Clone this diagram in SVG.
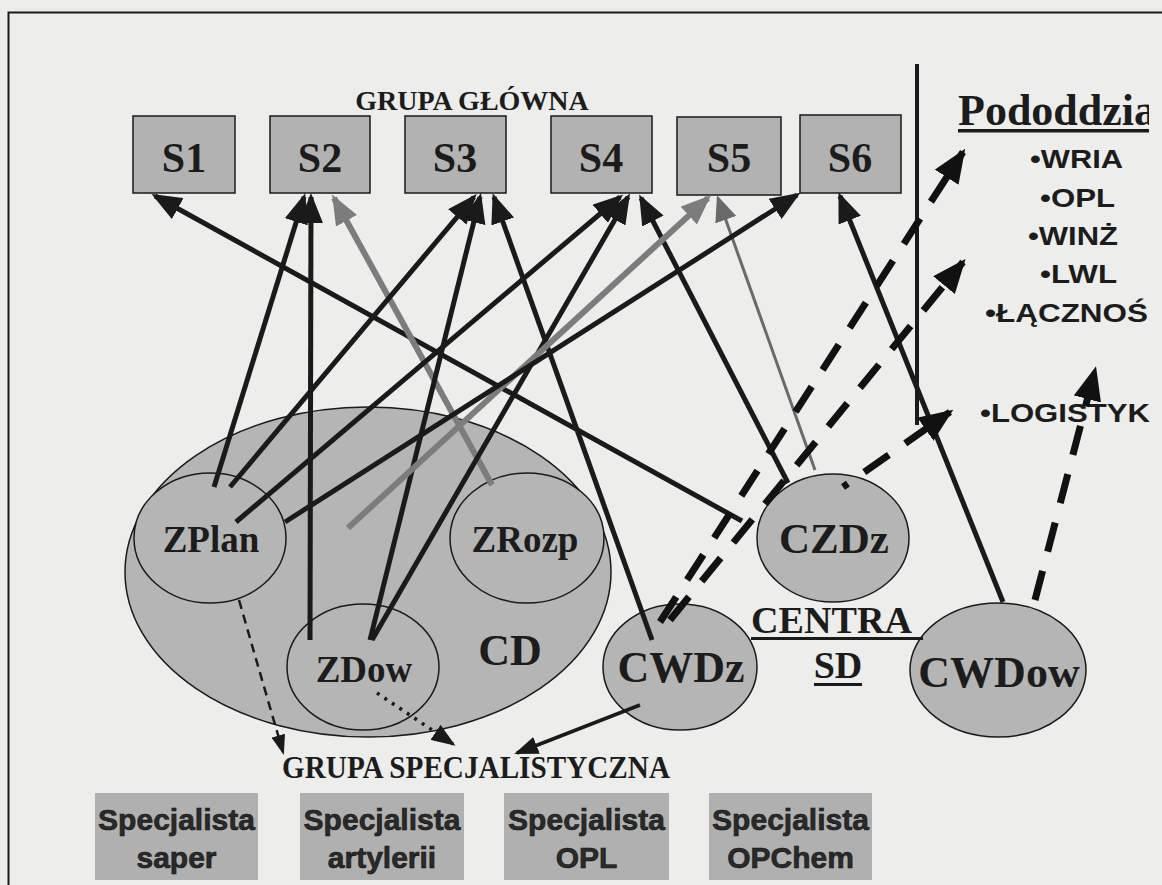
<svg xmlns="http://www.w3.org/2000/svg" width="1162" height="885" viewBox="0 0 1162 885">
  <defs>
    <style>
      .serif { font-family: "Liberation Serif", "Times New Roman", serif; font-weight: bold; fill: #1c1c1c; }
      .sans { font-family: "Liberation Sans", Arial, sans-serif; font-weight: bold; fill: #1c1c1c; }
      .box { fill: #b2b2b2; stroke: #1a1a1a; stroke-width: 1.5; }
      .oval { fill: #b5b5b5; stroke: #1a1a1a; stroke-width: 1.5; }
      .spec { fill: #b0b0b0; }
      .blk { fill: none; stroke: #1a1a1a; stroke-width: 5; }
      .gry { fill: none; stroke: #7c7c7c; stroke-width: 6; }
      .gryThin { fill: none; stroke: #6a6a6a; stroke-width: 3; }
      .dash { fill: none; stroke: #111; stroke-width: 7; stroke-dasharray: 30 20; }
      .spc { font-family: "Liberation Sans", Arial, sans-serif; font-weight: bold; font-size: 30px; fill: #2a2a2a; stroke: #111; stroke-width: 0.6; text-anchor: middle; }
    </style>
    <marker id="arrK" viewBox="0 0 30 24" refX="26" refY="12" markerWidth="30" markerHeight="24" markerUnits="userSpaceOnUse" orient="auto">
      <path d="M0,0 L30,12 L0,24 Z" fill="#1a1a1a"/>
    </marker>
    <marker id="arrG" viewBox="0 0 30 24" refX="26" refY="12" markerWidth="30" markerHeight="24" markerUnits="userSpaceOnUse" orient="auto">
      <path d="M0,0 L30,12 L0,24 Z" fill="#7c7c7c"/>
    </marker>
    <marker id="arrGs" viewBox="0 0 26 22" refX="23" refY="11" markerWidth="26" markerHeight="22" markerUnits="userSpaceOnUse" orient="auto">
      <path d="M0,0 L26,11 L0,22 Z" fill="#6a6a6a"/>
    </marker>
    <marker id="arrD" viewBox="0 0 34 28" refX="30" refY="14" markerWidth="34" markerHeight="28" markerUnits="userSpaceOnUse" orient="auto">
      <path d="M0,0 L34,14 L0,28 Z" fill="#111"/>
    </marker>
    <marker id="arrKs" viewBox="0 0 24 18" refX="21" refY="9" markerWidth="24" markerHeight="18" markerUnits="userSpaceOnUse" orient="auto">
      <path d="M0,0 L24,9 L0,18 Z" fill="#1a1a1a"/>
    </marker>
    <marker id="arrKxs" viewBox="0 0 20 14" refX="17" refY="7" markerWidth="20" markerHeight="14" markerUnits="userSpaceOnUse" orient="auto">
      <path d="M0,0 L20,7 L0,14 Z" fill="#1a1a1a"/>
    </marker>
    <clipPath id="rightEdge">
      <rect x="0" y="0" width="1149" height="885"/>
    </clipPath>
  </defs>

  <!-- paper and frame -->
  <rect x="0" y="0" width="1162" height="885" fill="#ededeb"/>
  <rect x="8.5" y="12.5" width="1170" height="900" fill="none" stroke="#1a1a1a" stroke-width="2"/>

  <!-- main group header -->
  <text class="serif" x="472" y="110" font-size="28" text-anchor="middle">GRUPA GŁÓWNA</text>

  <g id="S1"><rect class="box" x="133" y="116" width="102" height="77"/><text class="serif" x="184" y="172" font-size="42" text-anchor="middle">S1</text></g>
  <g id="S2"><rect class="box" x="270" y="116" width="100" height="77"/><text class="serif" x="320" y="172" font-size="42" text-anchor="middle">S2</text></g>
  <g id="S3"><rect class="box" x="405" y="116" width="101" height="77"/><text class="serif" x="455" y="172" font-size="42" text-anchor="middle">S3</text></g>
  <g id="S4"><rect class="box" x="551" y="116" width="101" height="77"/><text class="serif" x="601" y="172" font-size="42" text-anchor="middle">S4</text></g>
  <g id="S5"><rect class="box" x="677" y="117" width="104" height="78"/><text class="serif" x="729" y="172" font-size="42" text-anchor="middle">S5</text></g>
  <g id="S6"><rect class="box" x="800" y="115" width="101" height="78"/><text class="serif" x="850" y="172" font-size="42" text-anchor="middle">S6</text></g>

  <!-- subunits list -->
  <g id="pododdzialy">
    <line x1="917" y1="64" x2="917" y2="425" stroke="#1a1a1a" stroke-width="4"/>
    <g clip-path="url(#rightEdge)">
      <text class="serif" x="958" y="125" font-size="44">Pododdzia</text>
      <rect x="958" y="129" width="195" height="3.5" fill="#1a1a1a"/>
    </g>
    <text class="sans" x="1030" y="168" font-size="25" textLength="93" lengthAdjust="spacingAndGlyphs">•WRIA</text>
    <text class="sans" x="1040" y="207" font-size="25" textLength="75" lengthAdjust="spacingAndGlyphs">•OPL</text>
    <text class="sans" x="1028" y="245" font-size="25" textLength="90" lengthAdjust="spacingAndGlyphs">•WINŻ</text>
    <text class="sans" x="1040" y="283" font-size="25" textLength="77" lengthAdjust="spacingAndGlyphs">•LWL</text>
    <text class="sans" x="985" y="322" font-size="25" textLength="163" lengthAdjust="spacingAndGlyphs">•ŁĄCZNOŚ</text>
    <text class="sans" x="980" y="422" font-size="25" textLength="170" lengthAdjust="spacingAndGlyphs">•LOGISTYK</text>
  </g>

  <!-- command post with its cells -->
  <g id="CD">
    <ellipse class="oval" cx="368" cy="572" rx="243" ry="165"/>
    <text class="serif" x="510" y="665" font-size="44" text-anchor="middle">CD</text>
  </g>
  <g id="ZPlan">
    <ellipse class="oval" cx="210" cy="538" rx="76" ry="65"/>
    <text class="serif" x="211" y="552" font-size="37" text-anchor="middle">ZPlan</text>
  </g>
  <g id="ZRozp">
    <ellipse class="oval" cx="527" cy="538" rx="77" ry="65"/>
    <text class="serif" x="525" y="552" font-size="37" text-anchor="middle">ZRozp</text>
  </g>
  <g id="ZDow">
    <ellipse class="oval" cx="363" cy="667" rx="76" ry="63"/>
    <text class="serif" x="364" y="682" font-size="37" text-anchor="middle">ZDow</text>
  </g>

  <!-- support centres -->
  <g id="CZDz">
    <ellipse class="oval" cx="833" cy="538" rx="76" ry="64"/>
    <text class="serif" x="834" y="553" font-size="43" text-anchor="middle">CZDz</text>
  </g>
  <g id="CWDz">
    <ellipse class="oval" cx="680" cy="667" rx="77" ry="63"/>
    <text class="serif" x="681" y="682" font-size="44" text-anchor="middle">CWDz</text>
  </g>
  <g id="CWDow">
    <ellipse class="oval" cx="998" cy="670" rx="88" ry="67"/>
    <text class="serif" x="999" y="687" font-size="44" text-anchor="middle">CWDow</text>
  </g>
  <g id="centra">
    <text class="serif" x="751" y="633" font-size="38" textLength="161" lengthAdjust="spacingAndGlyphs">CENTRA</text>
    <rect x="751" y="637" width="172" height="3" fill="#1a1a1a"/>
    <text class="serif" x="838" y="678" font-size="38" text-anchor="middle">SD</text>
    <rect x="814" y="683" width="48" height="3" fill="#1a1a1a"/>
  </g>

  <!-- specialist group -->
  <text class="serif" x="282" y="778" font-size="31" textLength="388" lengthAdjust="spacingAndGlyphs">GRUPA SPECJALISTYCZNA</text>
  <g id="spec-saper"><rect class="spec" x="95" y="793" width="163" height="87"/><text class="spc" x="176.5" y="830">Specjalista</text><text class="spc" x="176.5" y="868">saper</text></g>
  <g id="spec-artylerii"><rect class="spec" x="300" y="793" width="164" height="87"/><text class="spc" x="382" y="830">Specjalista</text><text class="spc" x="382" y="868">artylerii</text></g>
  <g id="spec-opl"><rect class="spec" x="504" y="793" width="165" height="87"/><text class="spc" x="586.5" y="830">Specjalista</text><text class="spc" x="586.5" y="868">OPL</text></g>
  <g id="spec-opchem"><rect class="spec" x="709" y="793" width="163" height="87"/><text class="spc" x="790.5" y="830">Specjalista</text><text class="spc" x="790.5" y="868">OPChem</text></g>

  <!-- connectors -->
  <g id="connectors">
    <!-- to S1 -->
    <path class="blk" d="M742,521 L155,196" marker-end="url(#arrK)"/>
    <!-- to S2 -->
    <path class="blk" d="M214,487 L304,197" marker-end="url(#arrK)"/>
    <path class="blk" d="M310,640 L311,197" marker-end="url(#arrK)"/>
    <path class="gry" d="M492,485 L334,198" marker-end="url(#arrG)"/>
    <!-- to S3 -->
    <path class="blk" d="M230,487 L474,197" marker-end="url(#arrK)"/>
    <path class="blk" d="M370,640 L480,197" marker-end="url(#arrK)"/>
    <path class="blk" d="M652,640 L494,197" marker-end="url(#arrK)"/>
    <!-- to S4 -->
    <path class="blk" d="M236,522 L620,197" marker-end="url(#arrK)"/>
    <path class="blk" d="M372,640 L628,197" marker-end="url(#arrK)"/>
    <path class="blk" d="M788,483 L641,198" marker-end="url(#arrK)"/>
    <!-- to S5 -->
    <path class="gry" d="M348,528 L708,198" marker-end="url(#arrG)"/>
    <path class="gryThin" d="M815,470 L718,198" marker-end="url(#arrGs)"/>
    <!-- to S6 -->
    <path class="blk" d="M285,522 L797,195" marker-end="url(#arrK)"/>
    <path class="blk" d="M1003,602 L840,196" marker-end="url(#arrK)"/>

    <!-- to subunits -->
    <path class="dash" d="M660,622 L963,152" marker-end="url(#arrD)"/>
    <path class="dash" d="M670,620 L963,262" marker-end="url(#arrD)"/>
    <path class="dash" d="M843,487 L950,412" stroke-dasharray="28 20" stroke-dashoffset="24" marker-end="url(#arrD)"/>
    <path class="dash" d="M1035,600 L1095,370" marker-end="url(#arrD)"/>

    <!-- to specialist group -->
    <path d="M640,705 L517,753" fill="none" stroke="#1a1a1a" stroke-width="3.5" marker-end="url(#arrKs)"/>
    <path d="M239,600 Q262,680 283,752" fill="none" stroke="#1a1a1a" stroke-width="2.5" stroke-dasharray="9 6" marker-end="url(#arrKxs)"/>
    <path d="M377,693 L453,744" fill="none" stroke="#1a1a1a" stroke-width="3.5" stroke-dasharray="3 6" marker-end="url(#arrKs)"/>
  </g>
</svg>
